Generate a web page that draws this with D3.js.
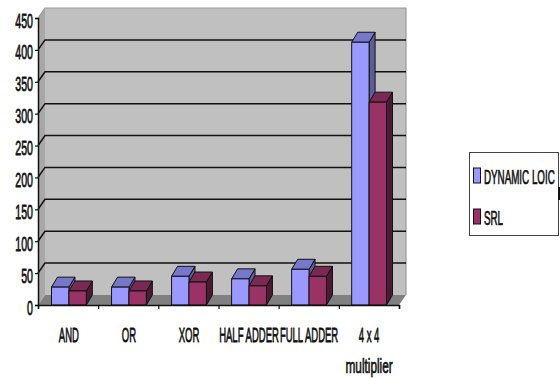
<!DOCTYPE html>
<html>
<head>
<meta charset="utf-8">
<script src="https://cdn.jsdelivr.net/npm/d3@7"></script>
<style>
html,body{margin:0;padding:0;background:#fff}
svg{display:block}
text{font-family:"Liberation Sans",sans-serif;fill:#111;stroke:#111;stroke-width:.5px}
</style>
</head>
<body>
<div id="chart"></div>
<script>
const categories = ["AND", "OR", "XOR", "HALF ADDER", "FULL ADDER", "4 x 4 multiplier"];
const seriesNames = ["DYNAMIC LOIC", "SRL"];
const dynamicLogic = [28, 28, 45, 41, 56, 412];
const srl = [22, 22, 36, 30, 45, 318];
const yTicks = [0, 50, 100, 150, 200, 250, 300, 350, 400, 450];
const seriesValues = [dynamicLogic, srl];

const faceColors = ["#9999FF", "#993366"];
const topColors = ["#7777CC", "#7A2952"];
const sideColors = ["#5C5C99", "#4D1A33"];

const svg = d3.select("#chart").append("svg").attr("width", 560).attr("height", 378);

const plotLeft = 38, plotRight = 399, plotBottom = 305, plotTop = 18;
const wallDx = 7, wallDy = 10;
const barDx = 6, barDy = 10;
const labelSize = 14;

const y = d3.scaleLinear().domain([0, 450]).range([plotBottom, plotTop]);
const x = d3.scaleBand().domain(categories).range([51.5, 386.5]).paddingInner(0.42);
const xSeries = d3.scaleBand().domain(d3.range(seriesNames.length)).range([0, x.bandwidth()]);
const poly = pts => pts.map(p => p.join(",")).join(" ");

// Walls and floor of the 3D plot box
const walls = svg.append("g");
walls.append("polygon")
  .attr("points", poly([[plotLeft + wallDx, y(450) - wallDy], [plotRight + wallDx, y(450) - wallDy], [plotRight + wallDx, plotBottom - wallDy], [plotLeft + wallDx, plotBottom - wallDy]]))
  .attr("fill", "#C0C0C0");
walls.append("polygon")
  .attr("points", poly([[plotLeft, y(450)], [plotLeft + wallDx, y(450) - wallDy], [plotLeft + wallDx, plotBottom - wallDy], [plotLeft, plotBottom]]))
  .attr("fill", "#A8A8A8");
walls.append("polyline")
  .attr("points", poly([[plotLeft, y(450)], [plotLeft + wallDx, y(450) - wallDy], [plotRight + wallDx, y(450) - wallDy], [plotRight + wallDx, plotBottom - wallDy]]))
  .attr("fill", "none").attr("stroke", "#9A9A9A").attr("stroke-width", 1.2);
walls.append("polygon")
  .attr("points", poly([[plotLeft, plotBottom], [plotLeft + wallDx, plotBottom - wallDy], [plotRight + wallDx, plotBottom - wallDy], [plotRight, plotBottom]]))
  .attr("fill", "#808080");

// Gridlines wrap from the side wall onto the back wall
svg.append("g").selectAll("polyline")
  .data(yTicks.filter(t => t > 0 && t < 450))
  .join("polyline")
  .attr("points", t => poly([[plotLeft, y(t)], [plotLeft + wallDx, y(t) - wallDy], [plotRight + wallDx, y(t) - wallDy]]))
  .attr("fill", "none").attr("stroke", "#111").attr("stroke-width", 1.5);

// Extruded columns; each series paints over the side face of the one before it
const groups = svg.append("g").selectAll("g")
  .data(categories)
  .join("g")
  .attr("transform", d => `translate(${x(d)},0)`);

[0, 1].forEach(s => {
  const values = seriesValues[s];
  const bar = groups.append("g").attr("stroke", "#111").attr("stroke-width", 1).attr("stroke-linejoin", "round");
  const x0 = xSeries(s), x1 = x0 + xSeries.bandwidth();
  bar.append("polygon")
    .attr("points", (d, i) => poly([[x1, y(values[i])], [x1 + barDx, y(values[i]) - barDy], [x1 + barDx, plotBottom - barDy], [x1, plotBottom]]))
    .attr("fill", sideColors[s]);
  bar.append("polygon")
    .attr("points", (d, i) => poly([[x0, y(values[i])], [x0 + barDx, y(values[i]) - barDy], [x1 + barDx, y(values[i]) - barDy], [x1, y(values[i])]]))
    .attr("fill", topColors[s]);
  bar.append("rect")
    .attr("x", x0).attr("width", xSeries.bandwidth())
    .attr("y", (d, i) => y(values[i]))
    .attr("height", (d, i) => plotBottom - y(values[i]))
    .attr("fill", faceColors[s]);
});

// Axes; labels are condensed and stretched about their own origin
const yAxis = svg.append("g").attr("transform", `translate(${plotLeft},0)`)
  .call(d3.axisLeft(y).tickValues(yTicks).tickSize(3).tickPadding(2));
yAxis.select(".domain").attr("stroke", "#111").attr("stroke-width", 1.5);
yAxis.selectAll(".tick line").attr("stroke", "#111").attr("stroke-width", 1.2);
yAxis.selectAll(".tick text")
  .attr("font-size", labelSize)
  .attr("font-family", null)
  .attr("transform", "scale(0.76,1.5)")
  .attr("y", 6).attr("dy", 0).attr("x", -5 / 0.76);

const xEdges = d3.scaleLinear().domain([0, categories.length]).range([plotLeft, plotRight]);
const xAxis = svg.append("g").attr("transform", `translate(0,${plotBottom})`)
  .call(d3.axisBottom(xEdges).tickValues(d3.range(categories.length + 1)).tickSize(4).tickFormat(""));
xAxis.select(".domain").attr("stroke", "#111").attr("stroke-width", 1.5);
xAxis.selectAll(".tick line").attr("stroke", "#111").attr("stroke-width", 1.2);

// Category labels, the long name broken over two lines
const lineGap = 20.5;
const catLabels = svg.append("g").selectAll("g")
  .data(categories)
  .join("g")
  .attr("transform", d => `translate(${x(d) + x.bandwidth() / 2},342) scale(0.68,1.5)`);
catLabels.selectAll("text")
  .data(d => d.startsWith("4 x 4") ? ["4 x 4", "multiplier"] : [d])
  .join("text")
  .attr("text-anchor", "middle")
  .attr("font-size", labelSize)
  .attr("transform", d => d === "multiplier" ? "scale(1.24,1)" : null)
  .attr("y", (d, i) => i * lineGap)
  .text(d => d);

// Legend
const legend = svg.append("g");
legend.append("rect").attr("x", 469.5).attr("y", 152.5).attr("width", 89).attr("height", 83)
  .attr("fill", "#fff").attr("stroke", "#444").attr("stroke-width", 1);
legend.append("rect").attr("x", 558).attr("y", 187).attr("width", 2).attr("height", 13).attr("fill", "#111");
const legendY = d3.scalePoint().domain(seriesNames).range([175.5, 216.5]);
const item = legend.selectAll("g").data(seriesNames).join("g")
  .attr("transform", d => `translate(473,${legendY(d)})`);
item.append("rect").attr("x", 0.5).attr("y", -7.5).attr("width", 7).attr("height", 15)
  .attr("fill", (d, i) => faceColors[i]).attr("stroke", "#111").attr("stroke-width", 1);
item.append("text")
  .attr("font-size", labelSize)
  .attr("transform", "translate(11,8) scale(0.7,1.4)")
  .text(d => d);
</script>
</body>
</html>
